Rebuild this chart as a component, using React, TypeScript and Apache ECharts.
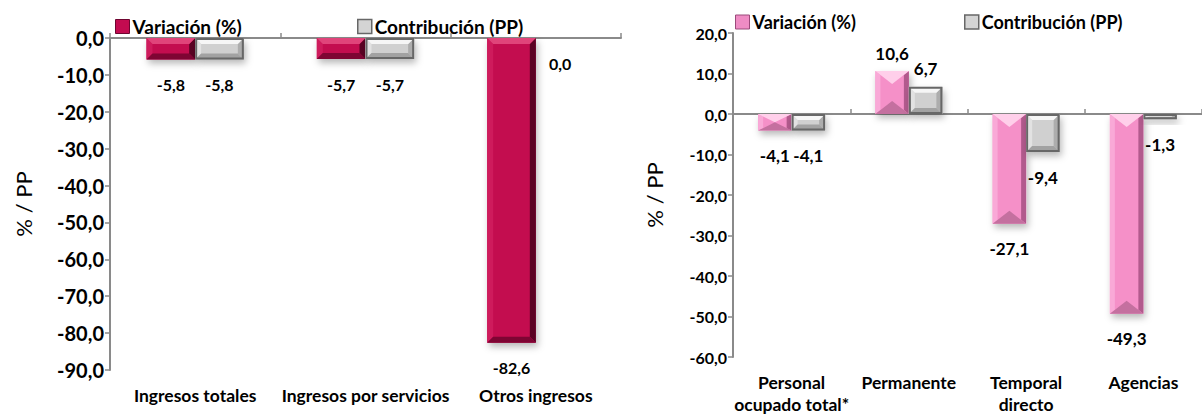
import React, { useEffect, useRef } from 'react';
import * as echarts from 'echarts';

// ---------- data ----------
const seriesNames = ['Variación (%)', 'Contribución (PP)'];
const yAxisName = '% / PP';

const leftCategories = ['Ingresos totales', 'Ingresos por servicios', 'Otros ingresos'];
const leftVariacion = [-5.8, -5.7, -82.6];
const leftContribucion = [-5.8, -5.7, 0.0];
const leftYMin = -90;
const leftYMax = 0;

const rightCategories = ['Personal\nocupado total*', 'Permanente', 'Temporal\ndirecto', 'Agencias'];
const rightVariacion = [-4.1, 10.6, -27.1, -49.3];
const rightContribucion = [-4.1, 6.7, -9.4, -1.3];
const rightYMin = -60;
const rightYMax = 20;

const yInterval = 10;

// ---------- styles ----------
const FONT = 'Lato';
const fmt = (v: number) => v.toFixed(1).replace('.', ',');

type Palette = { face: string; top: string; left: string; right: string; bottom: string; border?: string; legend: string; legendBorder: string };
const magenta: Palette = { face: '#C30B50', top: '#E0447A', left: '#CE1B5C', right: '#5A0223', bottom: '#7E0533', legend: '#C30B50', legendBorder: '#6E0530' };
const pink: Palette = { face: '#F590C8', top: '#FFCFEA', left: '#F9A9D7', right: '#B25A8D', bottom: '#C4709F', legend: '#EF8CC4', legendBorder: '#9A4A7A' };
const gray: Palette = { face: '#D0D0D0', top: '#F6F6F6', left: '#E2E2E2', right: '#ADADAD', bottom: '#A2A2A2', border: '#676767', legend: '#D4D4D4', legendBorder: '#676767' };

type Bevel = { vee: boolean; tb: number; depth: number; side: number };

function makeRenderItem(slot: number, pal: Palette, bev: Bevel, fontSize: number) {
  return (params: any, api: any) => {
    const idx = api.value(0);
    const val = api.value(1);
    const catW = api.size([1, 0])[0];
    const barW = catW / 3.5;
    const zero = api.coord([idx, 0]);
    const end = api.coord([idx, val]);
    const x0 = zero[0] + (slot === 0 ? -barW : 0);
    const x1 = x0 + barW;
    const xc = (x0 + x1) / 2;
    const yT = Math.min(zero[1], end[1]);
    const yB = Math.max(zero[1], end[1]);
    const h = yB - yT;
    const children: any[] = [];
    if (h > 0.5) {
      const d = Math.min(bev.depth, h / 2);
      const s = Math.min(bev.side, barW / 2);
      const tb = bev.vee ? barW / 2 : Math.min(bev.tb, barW / 2);
      const sd = bev.vee ? d * (s / (barW / 2)) : d;
      children.push({
        type: 'rect',
        shape: { x: x0, y: yT, width: barW, height: h },
        style: { fill: pal.face, shadowBlur: 7, shadowOffsetX: 2, shadowOffsetY: 4, shadowColor: 'rgba(0,0,0,0.28)' },
      });
      children.push({ type: 'polygon', shape: { points: [[x0, yT], [x0 + s, yT + sd], [x0 + s, yB - sd], [x0, yB]] }, style: { fill: pal.left } });
      children.push({ type: 'polygon', shape: { points: [[x1, yT], [x1 - s, yT + sd], [x1 - s, yB - sd], [x1, yB]] }, style: { fill: pal.right } });
      const topPts = bev.vee
        ? [[x0, yT], [x1, yT], [xc, yT + d]]
        : [[x0, yT], [x1, yT], [x1 - tb, yT + d], [x0 + tb, yT + d]];
      const botPts = bev.vee
        ? [[x0, yB], [x1, yB], [xc, yB - d]]
        : [[x0, yB], [x1, yB], [x1 - tb, yB - d], [x0 + tb, yB - d]];
      children.push({ type: 'polygon', shape: { points: topPts }, style: { fill: pal.top } });
      children.push({ type: 'polygon', shape: { points: botPts }, style: { fill: pal.bottom } });
      if (pal.border) {
        children.push({
          type: 'rect',
          shape: { x: x0 + 1, y: yT + 1, width: barW - 2, height: Math.max(h - 2, 0.5) },
          style: { fill: 'none', stroke: pal.border, lineWidth: 2 },
        });
      }
    }
    const ly = val > 0 ? yT - 18 : yB + 25;
    children.push({
      type: 'text',
      x: xc,
      y: ly,
      style: { text: fmt(val), fill: '#000', fontFamily: FONT, fontWeight: 'bold', fontSize, align: 'center', verticalAlign: 'middle' },
    });
    return { type: 'group', children };
  };
}

function buildOption(cfg: {
  categories: string[];
  vari: number[];
  contrib: number[];
  yMin: number;
  yMax: number;
  grid: any;
  pal0: Palette;
  bevel0: Bevel;
  bevel1: Bevel;
  legend0Left: number;
  legend1Left: number;
  legendTop: number;
  legendFont: number;
  tickFont: number;
  dataFont: number;
  nameGap: number;
}) {
  const axisColor = '#8A8A8A';
  const catStyle = { fontFamily: FONT, fontWeight: 'bold' as const, fontSize: 17.5, color: '#000' };
  const legendText = { fontFamily: FONT, fontWeight: 'bold' as const, fontSize: cfg.legendFont, color: '#000', padding: [0, 0, 0, -2] };
  return {
    animation: false,
    textStyle: { fontFamily: FONT },
    legend: [
      {
        data: [{ name: seriesNames[0], itemStyle: { color: cfg.pal0.legend, borderColor: cfg.pal0.legendBorder, borderWidth: 1 } }],
        left: cfg.legend0Left,
        top: cfg.legendTop,
        icon: 'rect',
        itemWidth: 14,
        itemHeight: 14,
        selectedMode: false,
        textStyle: legendText,
      },
      {
        data: [{ name: seriesNames[1], itemStyle: { color: gray.legend, borderColor: gray.legendBorder, borderWidth: 1.5 } }],
        left: cfg.legend1Left,
        top: cfg.legendTop,
        icon: 'rect',
        itemWidth: 14,
        itemHeight: 14,
        selectedMode: false,
        textStyle: legendText,
      },
    ],
    grid: cfg.grid,
    xAxis: [
      {
        type: 'category',
        data: cfg.categories,
        position: 'bottom',
        axisLine: { show: false, onZero: false },
        axisTick: { show: false },
        axisLabel: { ...catStyle, margin: 14, lineHeight: 22, interval: 0 },
        splitLine: { show: false },
      },
      {
        type: 'category',
        data: cfg.categories,
        position: 'top',
        axisLine: { show: true, onZero: true, lineStyle: { color: axisColor, width: 2 } },
        axisTick: { show: true, length: 5, inside: false, lineStyle: { color: axisColor, width: 1.5 } },
        axisLabel: { show: false },
        splitLine: { show: false },
      },
    ],
    yAxis: {
      type: 'value',
      min: cfg.yMin,
      max: cfg.yMax,
      interval: yInterval,
      name: yAxisName,
      nameLocation: 'middle',
      nameRotate: 90,
      nameGap: cfg.nameGap,
      nameTextStyle: { fontFamily: FONT, fontSize: 22, color: '#000' },
      axisLine: { show: true, lineStyle: { color: axisColor, width: 2 } },
      axisTick: { show: true, length: 5, lineStyle: { color: axisColor, width: 1.5 } },
      axisLabel: { fontFamily: FONT, fontWeight: 'bold', fontSize: cfg.tickFont, color: '#000', margin: 6, formatter: (v: number) => fmt(v) },
      splitLine: { show: false },
    },
    series: [
      {
        name: seriesNames[0],
        type: 'custom',
        xAxisIndex: 0,
        itemStyle: { color: cfg.pal0.legend },
        encode: { x: 0, y: 1 },
        data: cfg.vari.map((v, i) => [i, v]),
        renderItem: makeRenderItem(0, cfg.pal0, cfg.bevel0, cfg.dataFont),
        z: 3,
      },
      {
        name: seriesNames[1],
        type: 'custom',
        xAxisIndex: 0,
        itemStyle: { color: gray.legend },
        encode: { x: 0, y: 1 },
        data: cfg.contrib.map((v, i) => [i, v]),
        renderItem: makeRenderItem(1, gray, cfg.bevel1, cfg.dataFont),
        z: 3,
      },
    ],
  };
}

function ChartBox({ option, style }: { option: any; style: React.CSSProperties }) {
  const ref = useRef<HTMLDivElement>(null);
  useEffect(() => {
    if (!ref.current) return;
    const chart = echarts.init(ref.current, undefined, { renderer: 'svg' });
    chart.setOption(option);
    return () => chart.dispose();
  }, [option]);
  return <div ref={ref} style={style} />;
}

const leftOption = buildOption({
  categories: leftCategories,
  vari: leftVariacion,
  contrib: leftContribucion,
  yMin: leftYMin,
  yMax: leftYMax,
  grid: { left: 110, top: 38, width: 511, height: 332 },
  pal0: magenta,
  bevel0: { vee: false, tb: 6, depth: 6, side: 6 },
  bevel1: { vee: false, tb: 6, depth: 6, side: 6 },
  legend0Left: 110,
  legend1Left: 352,
  legendTop: 12,
  legendFont: 19,
  tickFont: 20,
  dataFont: 16,
  nameGap: 76,
});

const rightOption = buildOption({
  categories: rightCategories,
  vari: rightVariacion,
  contrib: rightContribucion,
  yMin: rightYMin,
  yMax: rightYMax,
  grid: { left: 133, top: 33, width: 480, height: 327 },
  pal0: pink,
  bevel0: { vee: true, tb: 0, depth: 13, side: 5 },
  bevel1: { vee: false, tb: 6, depth: 6, side: 6 },
  legend0Left: 130,
  legend1Left: 359,
  legendTop: 8,
  legendFont: 18,
  tickFont: 16,
  dataFont: 17,
  nameGap: 68,
});

export default function App() {
  return (
    <div style={{ position: 'fixed', left: 0, top: 0, width: 1202, height: 415, background: '#fff', overflow: 'hidden' }}>
      <ChartBox option={leftOption} style={{ position: 'absolute', left: 0, top: 0, width: 630, height: 415 }} />
      <ChartBox option={rightOption} style={{ position: 'absolute', left: 600, top: 0, width: 602, height: 415 }} />
    </div>
  );
}
